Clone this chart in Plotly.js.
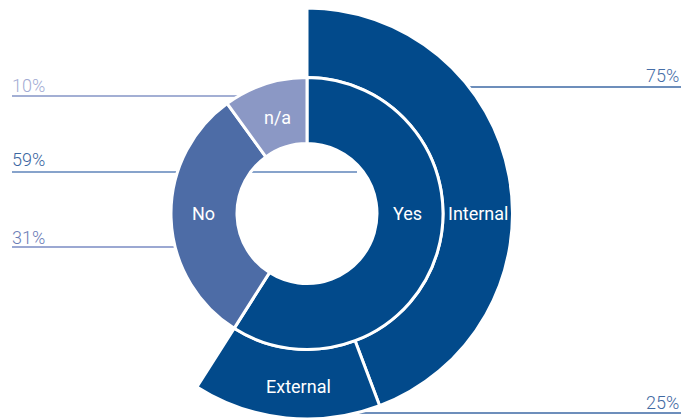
<!DOCTYPE html>
<html>
<head>
<meta charset="utf-8">
<script src="https://cdn.plot.ly/plotly-3.0.1.min.js"></script>
<style>html,body{margin:0;padding:0;background:#fff;}#chart{width:696px;height:419px;}</style>
</head>
<body>
<div id="chart"></div>
<script>
// Data
const innerLabels = ['Yes', 'No', 'n/a'];
const innerValues = [59, 31, 10];
const outerLabels = ['Internal', 'External'];
const outerShares = [75, 25]; // share of "Yes"
const pctLabels = ['10%', '59%', '31%'];
const outerPctLabels = ['75%', '25%'];

const W = 696, H = 419;
const px = x => x / W;
const py = y => 1 - y / H;

const cx = 307, cy = 213.5;
const rOuter = 205.5, rMid = 136, rHole = 70;

const yesVal = innerValues[0];
const outerValues = outerShares.map(s => yesVal * s / 100);
outerValues.push(innerValues[1] + innerValues[2]);

const dark = '#024a8b';
const innerColors = [dark, '#4d6ca6', '#8b98c5'];

const outerTrace = {
  type: 'pie',
  labels: outerLabels.concat(['_rest']),
  values: outerValues,
  sort: false,
  direction: 'clockwise',
  rotation: 0,
  hole: rMid / rOuter,
  textinfo: 'none',
  hoverinfo: 'skip',
  showlegend: false,
  marker: {colors: [dark, dark, 'rgba(0,0,0,0)'], line: {color: '#ffffff', width: [3, 3, 0]}},
  domain: {x: [px(cx - rOuter), px(cx + rOuter)], y: [Math.max(0, py(cy + rOuter)), py(cy - rOuter)]}
};

const innerTrace = {
  type: 'pie',
  labels: innerLabels,
  values: innerValues,
  sort: false,
  direction: 'clockwise',
  rotation: 0,
  hole: rHole / rMid,
  textinfo: 'none',
  hoverinfo: 'skip',
  showlegend: false,
  marker: {colors: innerColors, line: {color: '#ffffff', width: 3}},
  domain: {x: [px(cx - rMid), px(cx + rMid)], y: [py(cy + rMid), py(cy - rMid)]}
};

const font = {family: 'Roboto, "Open Sans", sans-serif', size: 18, weight: 300};
const wfont = Object.assign({}, font, {color: '#ffffff', weight: 400});

function ann(text, x, y, f, anchor) {
  return {text: text, x: px(x), y: py(y), xref: 'paper', yref: 'paper', showarrow: false,
    xanchor: anchor || 'center', yanchor: 'middle', font: f};
}
function line(x0, x1, y, color) {
  return {type: 'line', xref: 'paper', yref: 'paper', x0: px(x0), x1: px(x1), y0: py(y), y1: py(y),
    layer: 'below', line: {color: color, width: 1.3}};
}

const annotations = [
  ann(innerLabels[0], 408, 214, wfont),
  ann(innerLabels[1], 204, 214, wfont),
  ann(innerLabels[2], 277, 117, wfont),
  ann(outerLabels[0], 478, 214, wfont),
  ann(outerLabels[1], 298, 386, wfont),
  ann(pctLabels[0], 10, 85, Object.assign({}, font, {color: '#a2abd3'}), 'left'),
  ann(pctLabels[1], 10, 160, Object.assign({}, font, {color: '#3c67a1'}), 'left'),
  ann(pctLabels[2], 10, 237, Object.assign({}, font, {color: '#6a7cb6'}), 'left'),
  ann(outerPctLabels[0], 681, 75, Object.assign({}, font, {color: '#466ea7'}), 'right'),
  ann(outerPctLabels[1], 681, 402, Object.assign({}, font, {color: '#3f69a3'}), 'right')
];

const shapes = [
  line(12, 260, 96, '#8494c6'),
  line(12, 357, 172, '#5f85ba'),
  line(12, 230, 247, '#7a8bc3'),
  line(420, 681, 87, '#3d69a4'),
  line(330, 681, 413, '#3d69a4')
];

Plotly.newPlot('chart', [outerTrace, innerTrace], {
  width: W, height: H,
  margin: {l: 0, r: 0, t: 0, b: 0},
  paper_bgcolor: '#ffffff',
  showlegend: false,
  annotations: annotations,
  shapes: shapes
}, {staticPlot: true});
</script>
</body>
</html>
